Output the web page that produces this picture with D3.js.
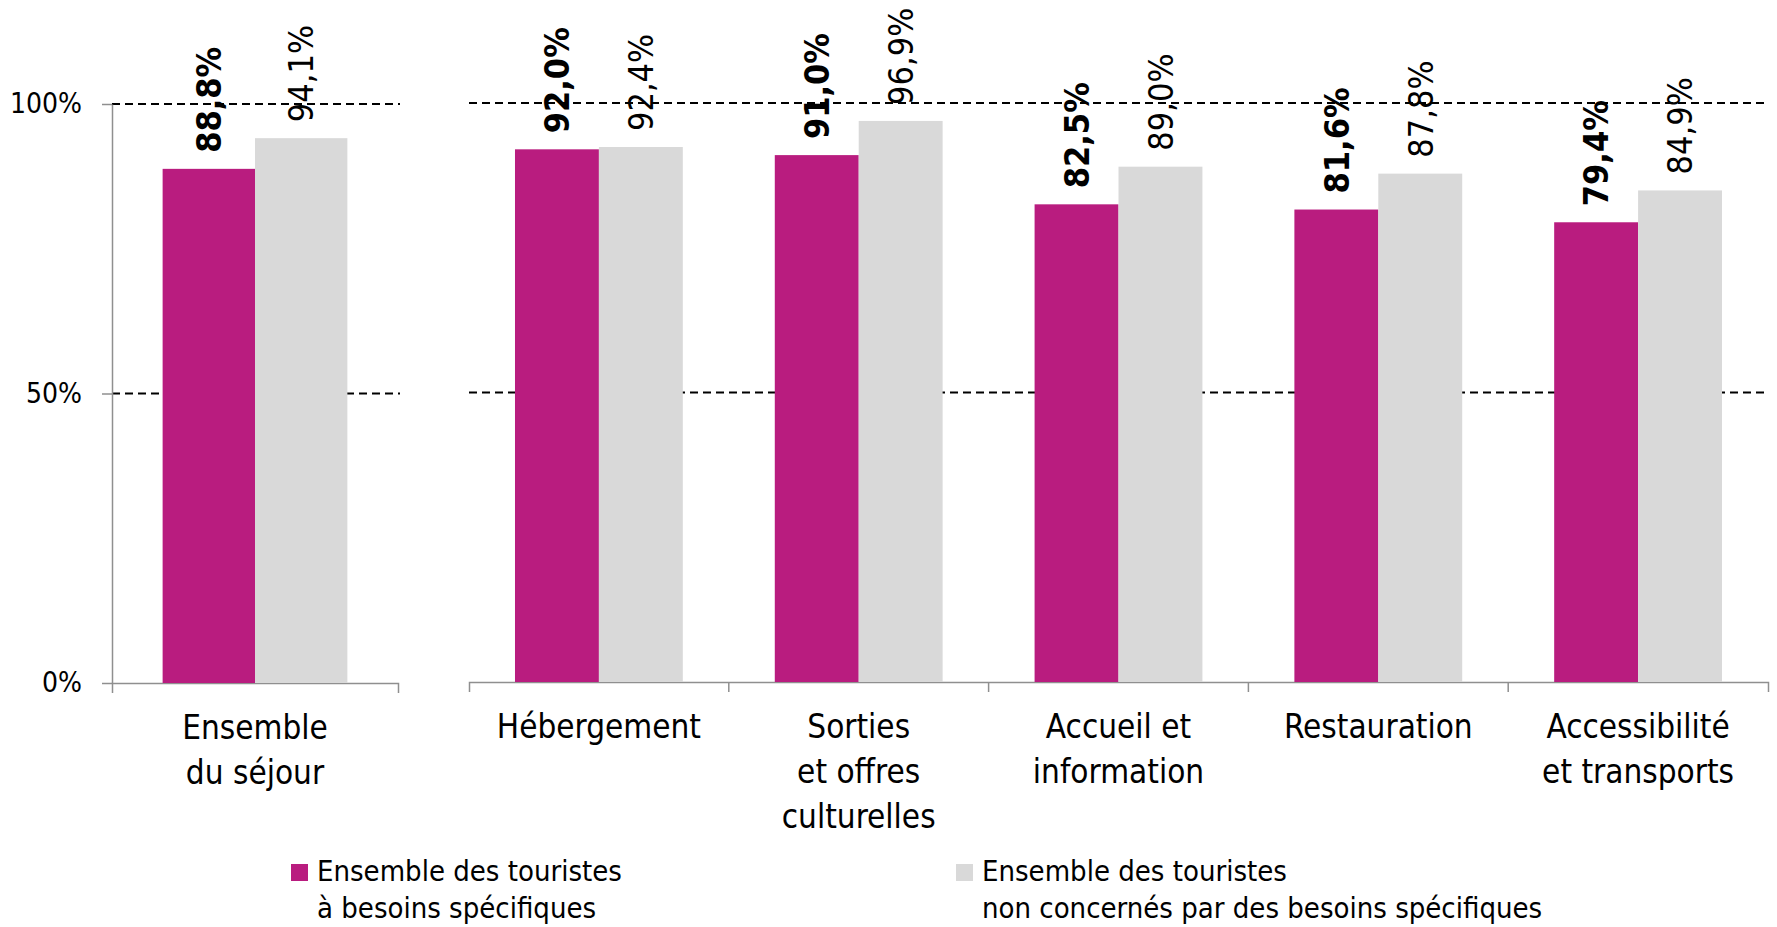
<!DOCTYPE html>
<html>
<head>
<meta charset="utf-8">
<script src="https://cdn.jsdelivr.net/npm/d3@7"></script>
<style>
  body { margin: 0; background: #fff; }
  svg text { font-family: "DejaVu Sans Condensed", "DejaVu Sans", sans-serif; font-stretch: condensed; fill: #000; }
</style>
</head>
<body>
<svg width="1777" height="927"></svg>
<script>
// data
var categories = ["Ensemble\ndu séjour", "Hébergement", "Sorties\net offres\nculturelles",
                  "Accueil et\ninformation", "Restauration", "Accessibilité\net transports"];
var seriesNames = ["Ensemble des touristes\nà besoins spécifiques",
                   "Ensemble des touristes\nnon concernés par des besoins spécifiques"];
var specificNeeds = [88.8, 92.0, 91.0, 82.5, 81.6, 79.4];
var noSpecificNeeds = [94.1, 92.4, 96.9, 89.0, 87.8, 84.9];
var yTicks = [0, 50, 100];

var colors = ["#b91c7f", "#d9d9d9"],
    axisColor = "#8f8f8f";

var svg = d3.select("svg");

var rows = categories.map(function(c, i) {
  return { cat: c, vals: [specificNeeds[i], noSpecificNeeds[i]] };
});

// first category sits in its own panel with the y axis, the rest share a second panel
var panels = [
  { rows: rows.slice(0, 1), range: [112, 398], yRange: [683, 104], gridEnd: 400, yAxis: true },
  { rows: rows.slice(1),    range: [469, 1768], yRange: [682, 103], gridEnd: 1768, yAxis: false }
];

panels.forEach(function(p) {
  var x0 = d3.scaleBand().domain(p.rows.map(function(d) { return d.cat; })).range(p.range),
      x1 = d3.scaleBand().domain([0, 1]).range([0, x0.bandwidth()]).paddingInner(0).paddingOuter(0.548),
      y = d3.scaleLinear().domain([0, 100]).range(p.yRange),
      g = svg.append("g");

  // dashed gridlines at 50% and 100%
  g.append("g").selectAll("line")
    .data(yTicks.slice(1))
    .enter().append("line")
      .attr("x1", p.range[0]).attr("x2", p.gridEnd)
      .attr("y1", function(d) { return y(d); })
      .attr("y2", function(d) { return y(d); })
      .attr("stroke", "#000")
      .attr("stroke-width", 1.8)
      .attr("stroke-dasharray", "8,5");

  if (p.yAxis) {
    var ya = g.append("g")
      .attr("transform", "translate(" + p.range[0] + ",0)")
      .call(d3.axisLeft(y).tickValues(yTicks).tickFormat(function(d) { return d + "%"; })
        .tickSizeInner(10).tickSizeOuter(0).tickPadding(20));
    ya.selectAll("path, line").attr("stroke", axisColor).attr("stroke-width", 1.5);
    ya.selectAll("text").style("font-size", "28px").attr("fill", "#000");
  }

  // x axis: domain line with end ticks, plus separators between categories
  var xa = g.append("g")
    .attr("transform", "translate(0," + p.yRange[0] + ")")
    .call(d3.axisBottom(x0).tickSizeInner(0).tickSizeOuter(10).tickFormat(""));
  xa.select(".domain").attr("stroke", axisColor).attr("stroke-width", 1.5);
  xa.selectAll(".tick").remove();
  xa.selectAll(".sep")
    .data(x0.domain().slice(1))
    .enter().append("line")
      .attr("class", "sep")
      .attr("x1", function(d) { return x0(d); })
      .attr("x2", function(d) { return x0(d); })
      .attr("y1", 0).attr("y2", 10)
      .attr("stroke", axisColor).attr("stroke-width", 1.5);

  // category labels
  var lab = g.selectAll(".cat")
    .data(p.rows)
    .enter().append("text")
      .attr("class", "cat")
      .attr("text-anchor", "middle")
      .style("font-size", "33px")
      .attr("transform", function(d) {
        return "translate(" + (x0(d.cat) + x0.bandwidth() / 2) + "," + (p.yRange[0] + 56) + ")";
      });
  lab.selectAll("tspan")
    .data(function(d) { return d.cat.split("\n"); })
    .enter().append("tspan")
      .attr("x", 0)
      .attr("dy", function(d, i) { return i ? 45 : 0; })
      .text(function(d) { return d; });

  // bars and value labels
  var grp = g.selectAll(".grp")
    .data(p.rows)
    .enter().append("g")
      .attr("class", "grp")
      .attr("transform", function(d) { return "translate(" + x0(d.cat) + ",0)"; });

  grp.selectAll("rect")
    .data(function(d) { return d.vals; })
    .enter().append("rect")
      .attr("x", function(d, i) { return x1(i); })
      .attr("y", function(d) { return y(d); })
      .attr("width", x1.bandwidth())
      .attr("height", function(d) { return y(0) - y(d); })
      .attr("fill", function(d, i) { return colors[i]; });

  grp.selectAll(".val")
    .data(function(d) { return d.vals; })
    .enter().append("text")
      .attr("class", "val")
      .attr("transform", function(d, i) {
        return "translate(" + (x1(i) + x1.bandwidth() / 2) + "," + (y(d) - 16) + ") rotate(-90)";
      })
      .attr("dy", "0.36em")
      .style("font-size", "34px")
      .style("font-weight", function(d, i) { return i ? "normal" : "bold"; })
      .text(function(d) { return d.toFixed(1).replace(".", ",") + "%"; });
});

// legend
var legendX = [291, 956];
var leg = svg.selectAll(".legend")
  .data(seriesNames)
  .enter().append("g")
    .attr("class", "legend")
    .attr("transform", function(d, i) { return "translate(" + legendX[i] + ",864)"; });

leg.append("rect")
  .attr("width", 17).attr("height", 17)
  .attr("fill", function(d, i) { return colors[i]; });

leg.append("text")
  .attr("x", 26).attr("y", 17)
  .style("font-size", "29px")
  .selectAll("tspan")
  .data(function(d) { return d.split("\n"); })
  .enter().append("tspan")
    .attr("x", 26)
    .attr("dy", function(d, i) { return i ? 37 : 0; })
    .text(function(d) { return d; });
</script>
</body>
</html>
